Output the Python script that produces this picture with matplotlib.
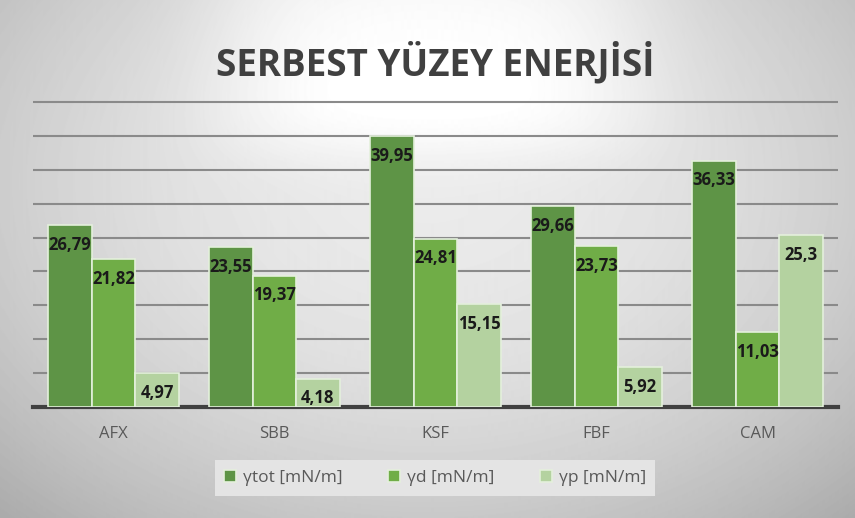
import numpy as np
import matplotlib.pyplot as plt

categories = ["AFX", "SBB", "KSF", "FBF", "CAM"]
gamma_tot = [26.79, 23.55, 39.95, 29.66, 36.33]
gamma_d = [21.82, 19.37, 24.81, 23.73, 11.03]
gamma_p = [4.97, 4.18, 15.15, 5.92, 25.3]
labels_tot = ["26,79", "23,55", "39,95", "29,66", "36,33"]
labels_d = ["21,82", "19,37", "24,81", "23,73", "11,03"]
labels_p = ["4,97", "4,18", "15,15", "5,92", "25,3"]
series_names = ["γtot [mN/m]", "γd [mN/m]", "γp [mN/m]"]

plt.rcParams['font.family'] = ['Open Sans', 'DejaVu Sans']

W, H = 855, 518
fig = plt.figure(figsize=(W / 100, H / 100), dpi=100)

# background: grey radial gradient with a bright glare at the top
bg = fig.add_axes([0, 0, 1, 1], zorder=0)
yy, xx = np.mgrid[0:H, 0:W]
r = np.sqrt(((xx - W / 2) / (W * 0.62)) ** 2 + ((yy - H * 0.35) / (H * 0.75)) ** 2)
img = 0.92 - 0.18 * r ** 2
glare = np.exp(-(((xx - 430) / 220.0) ** 4 + ((yy - 45) / 110.0) ** 4))
img = np.clip(img + 0.10 * glare, 0, 1)
bg.imshow(img, cmap='gray', vmin=0, vmax=1, extent=[0, W, H, 0], aspect='auto')
bg.set_axis_off()

ax = fig.add_axes([33 / W, 1 - 407 / H, 805 / W, (407 - 68) / H], zorder=1)
ax.patch.set_alpha(0)

x = np.arange(len(categories))
w = 0.27
colors = ["#5e9446", "#70ad47", "#b4d2a0"]
for i, (vals, labs) in enumerate([(gamma_tot, labels_tot), (gamma_d, labels_d), (gamma_p, labels_p)]):
    pos = x + (i - 1) * w
    ax.bar(pos, vals, width=w, color=colors[i], edgecolor="#e4f0dc", linewidth=1.2,
           label=series_names[i], zorder=3)
    for xp, v, lab in zip(pos, vals, labs):
        ax.text(xp, v - 2.9, lab, ha='center', va='center', fontsize=12,
                fontweight='bold', color='#1a1a1a', zorder=4)

ax.set_xlim(-0.5, 4.5)
ax.set_ylim(0, 50)
ax.set_yticks(np.arange(5, 50, 5))
ax.yaxis.grid(True, color='#8a8a8a', linewidth=1.5, zorder=0)
ax.set_yticklabels([])
ax.tick_params(axis='y', length=0)
ax.set_xticks(x)
ax.set_xticklabels(categories, fontsize=12, color='#595959')
ax.tick_params(axis='x', length=0, pad=14)
for s in ['top', 'right', 'left']:
    ax.spines[s].set_visible(False)
ax.spines['bottom'].set_color('#404040')
ax.spines['bottom'].set_linewidth(3)

fig.text(435 / W, 1 - 63 / H, "SERBEST YÜZEY ENERJİSİ", ha='center', va='center',
         fontsize=26.5, fontweight='bold', color='#404040')

leg = ax.legend(loc='center', bbox_to_anchor=(435 / W, 1 - 478 / H),
                bbox_transform=fig.transFigure, ncol=3, frameon=True, fontsize=12.5,
                handlelength=0.7, handleheight=0.7, columnspacing=2.6, handletextpad=0.4,
                borderpad=0.55, borderaxespad=0, fancybox=False)
leg.get_frame().set_facecolor('#e4e4e4')
leg.get_frame().set_edgecolor('none')
leg.get_frame().set_alpha(1)
for t in leg.get_texts():
    t.set_color('#595959')

fig.savefig("out.png", dpi=100)
